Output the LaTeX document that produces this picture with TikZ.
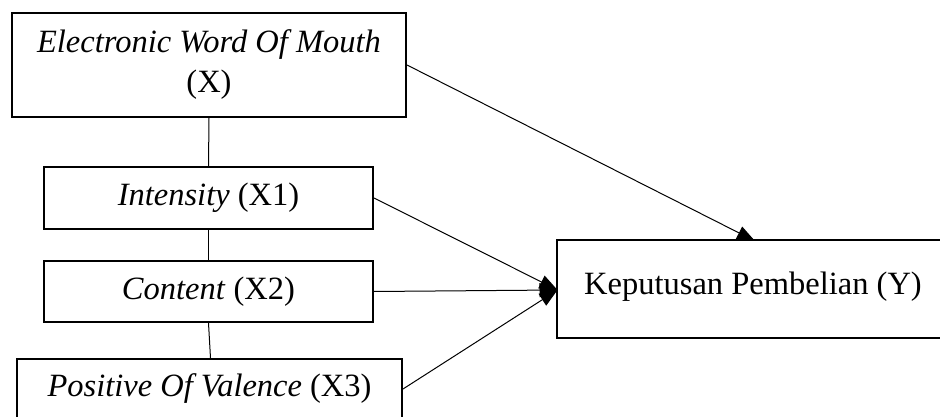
\documentclass[tikz,border=0pt]{standalone}
\usepackage{fontspec}
\setmainfont{Liberation Serif}
\usetikzlibrary{arrows.meta,backgrounds,calc}
\begin{document}
\begin{tikzpicture}[x=1pt,y=-1pt,
  box/.style={draw, line width=2pt, inner sep=0pt, align=center,
    font=\fontsize{32.5}{40}\selectfont},
  conn/.style={line width=1pt},
  arr/.style={conn, -{Triangle[length=18pt,width=14pt]}}]
\useasboundingbox (0,0) rectangle (940,417);
\node[box, minimum width=394pt, minimum height=104pt] (X) at (209,65)
  {\textit{Electronic Word Of Mouth}\\(X)};
\node[box, minimum width=329pt, minimum height=62pt] (X1) at (208.5,198)
  {\textit{Intensity} (X1)};
\node[box, minimum width=329pt, minimum height=61pt] (X2) at (208.5,291.5)
  {\textit{Content} (X2)};
\node[box, minimum width=385pt, minimum height=60pt] (X3) at (209.5,389)
  {\textit{Positive Of Valence} (X3)};
\node[box, fill=white, minimum width=393pt, minimum height=98pt, text depth=12pt] (Y) at (753,289)
  {Keputusan Pembelian (Y)};
\coordinate (Ytop) at ($(Y.north)+(2,2)$);
\coordinate (Yleft) at ($(Y.west)+(2,1)$);
\begin{pgfonlayer}{background}
\draw[conn] (X.south) -- (X1.north);
\draw[conn] (X1.south) -- (X2.north);
\draw[conn] (X2.south) -- ([xshift=1pt]X3.north);
\draw[arr] (X.east) -- (Ytop);
\draw[arr] (X1.east) -- (Yleft);
\draw[arr] (X2.east) -- (Yleft);
\draw[arr] (X3.east) -- (Yleft);
\end{pgfonlayer}
\end{tikzpicture}
\end{document}
